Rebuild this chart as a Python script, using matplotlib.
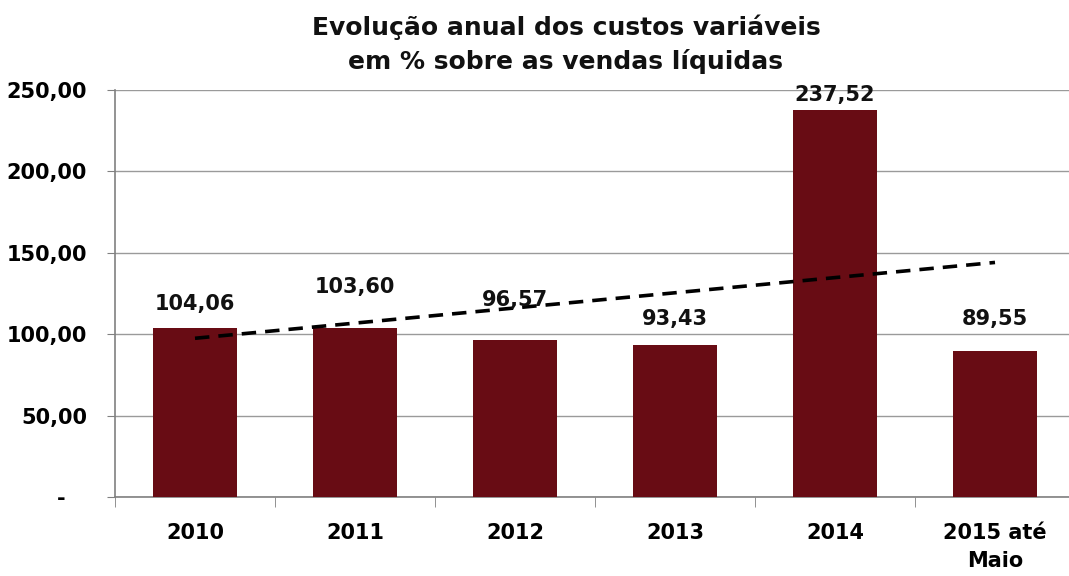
import matplotlib
matplotlib.use("Agg")
import matplotlib.pyplot as plt
import numpy as np

categories = ["2010", "2011", "2012", "2013", "2014", "2015 até\nMaio"]
values = [104.06, 103.60, 96.57, 93.43, 237.52, 89.55]
yticks = [0, 50, 100, 150, 200, 250]
ytick_labels = ["-   ", "50,00", "100,00", "150,00", "200,00", "250,00"]
title = "Evolução anual dos custos variáveis\nem % sobre as vendas líquidas"

# vertical label offsets (points) as placed in the original
label_offsets = [17, 30, 29, 19, 11, 23]

plt.rcParams['font.family'] = ['DejaVu Sans']
fig = plt.figure(figsize=(10.69, 5.76), dpi=100)
ax = fig.add_axes([115/1069, 1-497/576, 960/1069, (497-90)/576])

x = np.arange(len(categories))
bar_color = "#680c14"
ax.bar(x, values, width=0.52, color=bar_color, zorder=3)

# linear trendline
coef = np.polyfit(x, values, 1)
ax.plot(x, np.polyval(coef, x), linestyle=(0, (4, 2.5)), color="black", lw=2.6, zorder=4)

for xi, v, off in zip(x, values, label_offsets):
    ax.annotate(f"{v:.2f}".replace(".", ","), (xi, v), xytext=(0, off),
                textcoords="offset points", ha="center", va="center",
                fontsize=15, fontweight="bold", color="#111111", zorder=5)

ax.set_xlim(-0.5, len(categories) - 0.5)
ax.set_ylim(0, 250)
ax.set_yticks(yticks)
ax.set_yticklabels(ytick_labels, fontsize=15, fontweight="bold")
ax.set_xticks(x)
ax.set_xticklabels(categories, fontsize=15, fontweight="bold", linespacing=1.45)
ax.set_xticks(np.arange(len(categories) + 1) - 0.5, minor=True)
ax.tick_params(axis="x", which="major", length=0, pad=19)
ax.tick_params(axis="x", which="minor", length=7, color="#808080", direction="out")
ax.tick_params(axis="y", length=6, color="#808080", direction="out", pad=14)

ax.grid(axis="y", color="#9a9a9a", lw=1.0, zorder=0)
for s in ["top", "right"]:
    ax.spines[s].set_visible(False)
ax.spines["left"].set_color("#808080")
ax.spines["bottom"].set_color("#808080")
ax.spines["left"].set_linewidth(1.2)
ax.spines["bottom"].set_linewidth(1.2)

fig.text(566/1069, 1-44/576, title, ha="center", va="center", fontsize=18,
         fontweight="bold", color="#111111", linespacing=1.45)

fig.savefig("out.png", dpi=100)
